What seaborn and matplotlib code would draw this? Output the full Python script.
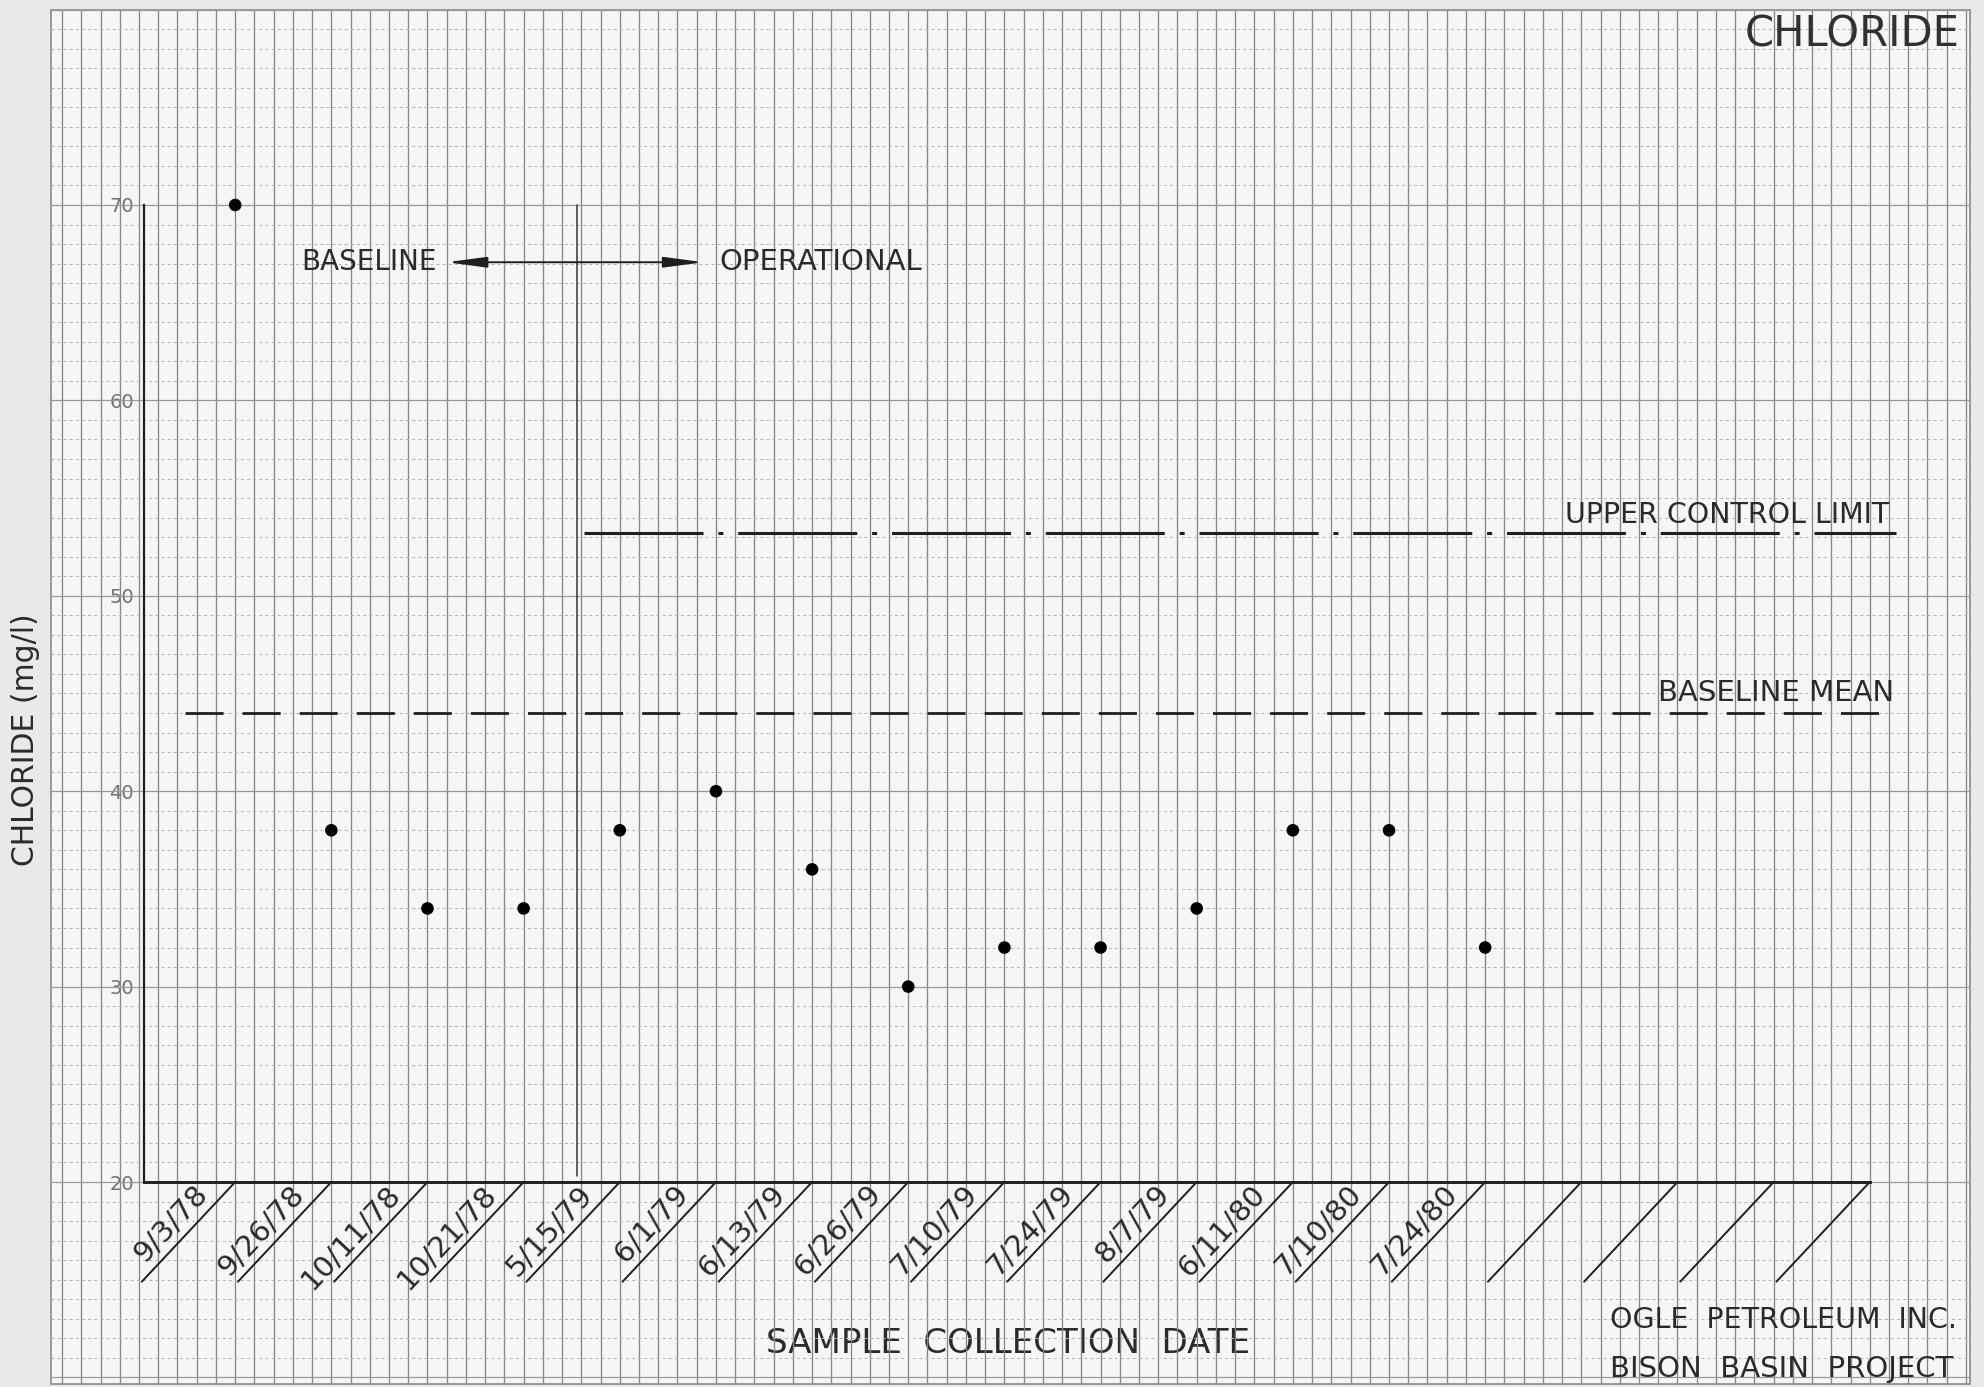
import numpy as np
import matplotlib
matplotlib.use("Agg")
import matplotlib.pyplot as plt
from matplotlib.patches import Rectangle
from matplotlib.transforms import offset_copy
import seaborn as sns

# ---- data -------------------------------------------------------------
sample_dates = ["9/3/78", "9/26/78", "10/11/78", "10/21/78", "5/15/79",
                "6/1/79", "6/13/79", "6/26/79", "7/10/79", "7/24/79",
                "8/7/79", "6/11/80", "7/10/80", "7/24/80"]
chloride_mg_l = [70, 38, 34, 34, 38, 40, 36, 30, 32, 32, 34, 38, 38, 32]
n_slots = 18                      # date slots on the form (last four blank)
y_ticks = [20, 30, 40, 50, 60, 70]
baseline_mean = 44
upper_control_limit = 53.2
baseline_end = 3.55               # boundary between baseline and operational

# ---- style ------------------------------------------------------------
sns.set_theme(style="white")
plt.rcParams["font.family"] = ["DejaVu Sans"]
plt.rcParams["lines.scale_dashes"] = False
INK = "#1f1f1f"
TEXT = "#2a2a2a"

fig = plt.figure(figsize=(19.84, 13.87), dpi=100, facecolor="#e9e9e9")
ax = fig.add_axes([0, 0, 1, 1])
ax.set_facecolor("none")
ax.set_xlim(-2.446, 18.188)
ax.set_ylim(9.51, 80.49)

# ---- graph paper ------------------------------------------------------
px0, px1, py0, py1 = -1.92, 18.04, 9.66, 80.0
ax.add_patch(Rectangle((px0, py0), px1 - px0, py1 - py0, facecolor="#f6f6f6",
                       edgecolor="#8a8a8a", lw=1.2, zorder=0))
ax.vlines(np.arange(-1.8, px1, 0.2), py0, py1, color="#868686", lw=0.95, zorder=1)
minor_y = [v for v in range(10, 80) if v % 10]
ax.hlines(minor_y, px0, px1, color="#b4b4b4", lw=0.7,
          linestyles=[(0, (2.2, 2.2))], zorder=1)
ax.hlines(range(10, 81, 10), px0, px1, color="#9a9a9a", lw=0.9, zorder=1)

# ---- axes -------------------------------------------------------------
axis_x = -0.95
for side in ("top", "right"):
    ax.spines[side].set_visible(False)
ax.spines["left"].set_position(("data", axis_x))
ax.spines["left"].set_bounds(20, 70)
ax.spines["left"].set_color(INK)
ax.spines["left"].set_linewidth(1.6)
ax.spines["bottom"].set_position(("data", 20))
ax.spines["bottom"].set_bounds(axis_x, n_slots - 1)
ax.spines["bottom"].set_color(INK)
ax.spines["bottom"].set_linewidth(2.1)
for s in ax.spines.values():
    s.set_zorder(4)

ax.set_yticks(y_ticks, [str(v) for v in y_ticks])
ax.tick_params(axis="y", direction="in", length=29, width=1.2, color="#333333",
               labelsize=14, labelcolor="#707070", pad=7)
ax.set_xticks(range(n_slots), [""] * n_slots)
ax.tick_params(axis="x", direction="in", length=15, width=1.5, color=INK)
ax.grid(False)

# slanted date boxes under the axis
dx_slant, dy_slant = -0.971, -5.1
for i in range(n_slots):
    ax.plot([i, i + dx_slant], [20, 20 + dy_slant], color=INK, lw=1.4,
            solid_capstyle="round", zorder=4)

p0 = ax.transData.transform((0, 20))
p1 = ax.transData.transform((dx_slant, 20 + dy_slant))
angle = np.degrees(np.arctan2(p0[1] - p1[1], p0[0] - p1[0]))
nrm = np.radians(angle + 90)
gap = 3.2
label_tr = offset_copy(ax.transData, fig=fig, x=gap * np.cos(nrm),
                       y=gap * np.sin(nrm), units="points")
for i, lab in enumerate(sample_dates):
    f = 0.2
    ax.text(i + dx_slant * f, 20 + dy_slant * f, lab, transform=label_tr,
            rotation=angle, rotation_mode="anchor", ha="right", va="bottom",
            fontsize=21, color=TEXT, zorder=6)

# ---- reference lines ---------------------------------------------------
ax.plot([-0.52, 17.27], [baseline_mean] * 2, color=INK, lw=2.0,
        linestyle=(0, (27.4, 13.7)), zorder=3)
ax.plot([3.63, 17.27], [upper_control_limit] * 2, color=INK, lw=2.2,
        linestyle=(0, (85.7, 10.7, 3.6, 10.7)), zorder=3)
ax.text(17.25, baseline_mean + 0.3, "BASELINE MEAN", ha="right", va="bottom",
        fontsize=21, color=TEXT, zorder=6)
ax.text(17.2, upper_control_limit + 0.2, "UPPER CONTROL LIMIT", ha="right",
        va="bottom", fontsize=20.5, color=TEXT, zorder=6)

# baseline / operational divider and arrow
ax.plot([baseline_end, baseline_end], [20.3, 70], color="#333333", lw=1.1, zorder=3)
arrow_y = 67.07
ax.annotate("", xy=(2.2, arrow_y), xytext=(4.87, arrow_y),
            arrowprops=dict(arrowstyle="<|-|>,head_length=2.4,head_width=0.32",
                            mutation_scale=10, lw=1.4, color=INK,
                            shrinkA=0, shrinkB=0), zorder=5)
ax.text(2.094, arrow_y, "BASELINE", ha="right", va="center", fontsize=20,
        color=TEXT, zorder=6)
ax.text(5.04, arrow_y, "OPERATIONAL", ha="left", va="center", fontsize=21,
        color=TEXT, zorder=6)

# ---- samples -----------------------------------------------------------
sns.scatterplot(x=list(range(len(chloride_mg_l))), y=chloride_mg_l, ax=ax,
                s=82, color="black", edgecolor="none", zorder=5, legend=False)

# ---- labels ------------------------------------------------------------
ax.set_ylabel("CHLORIDE (mg/l)", fontsize=21.5, color=TEXT)
ax.yaxis.label.set_va("center")
ax.yaxis.set_label_coords(0.0128, 0.4665)
ax.set_xlabel("SAMPLE  COLLECTION  DATE", fontsize=24.5, color=TEXT)
ax.xaxis.label.set_va("center")
ax.xaxis.set_label_coords(0.5079, 0.0312)

ax.text(17.93, 78.75, "CHLORIDE", ha="right", va="center", fontsize=30,
        color="#303030", zorder=6)
ax.text(14.3, 12.94, "OGLE  PETROLEUM  INC.", ha="left", va="center",
        fontsize=20.5, color=TEXT, zorder=6)
ax.text(14.3, 10.43, "BISON  BASIN  PROJECT", ha="left", va="center",
        fontsize=21, color=TEXT, zorder=6)

fig.savefig("out.png", dpi=100, facecolor=fig.get_facecolor())
